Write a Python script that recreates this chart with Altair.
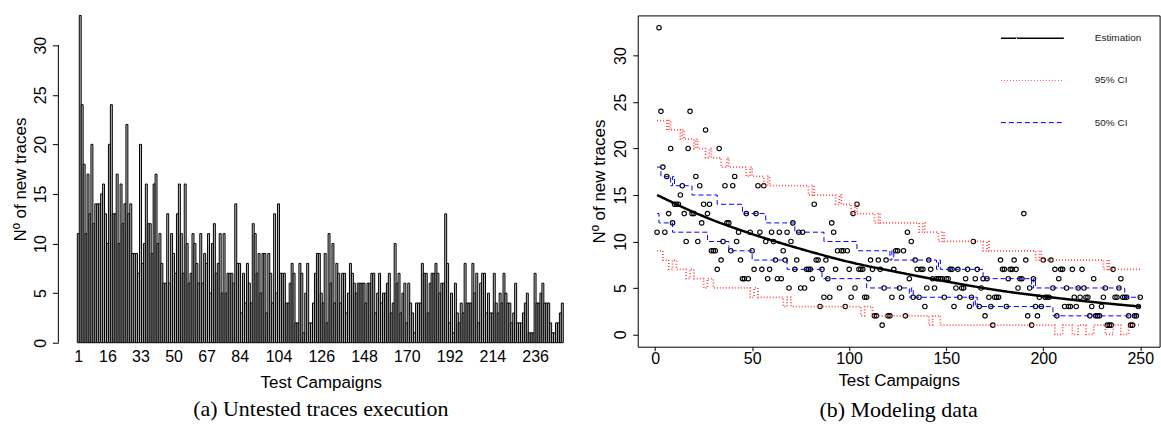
import altair as alt
import pandas as pd

# ---- data ----
traces = [
    11, 33, 24, 18, 11, 17, 13, 20, 12, 14, 14, 14, 15, 16, 13, 10, 20, 24, 13, 13,
    17, 10, 16, 12, 14, 22, 13, 14, 9, 9, 9, 7, 20, 8, 10, 16, 12, 12,
    9, 16, 17, 10, 11, 8, 6, 6, 13, 6, 11, 9, 7, 13, 16, 11, 7, 16, 10, 6, 7, 11,
    10, 8, 6, 11, 6, 9, 8, 11, 5, 10, 12, 7, 8, 11, 5, 11, 5, 7, 7, 7, 6, 14,
    8, 8, 3, 7, 4, 8, 6, 4, 12, 11, 7, 9, 5, 9, 9, 3, 9, 7, 4, 13, 5, 14, 7, 7, 7,
    4, 4, 6, 8, 7, 2, 2, 8, 7, 1, 5, 8, 2, 2, 4, 7,
    9, 9, 5, 4, 9, 2, 11, 6, 10, 4, 8, 7, 4, 7, 7, 3, 5, 8, 7, 6, 5, 6, 6, 6, 6,
    4, 6, 6, 7, 7, 3, 5, 7, 4, 5, 5, 6, 7, 3, 4, 10,
    6, 7, 3, 5, 6, 2, 6, 4, 3, 1, 4, 4, 4, 8, 7, 7, 3, 6, 7, 7, 8, 7, 5, 6, 6, 13,
    8, 2, 5, 1, 6, 3, 2, 4, 3, 8, 4, 4, 4, 8, 5,
    7, 2, 6, 7, 7, 3, 5, 3, 3, 7, 4, 3, 5, 4, 7, 5, 4, 4, 2, 3, 6, 2, 2, 2, 3,
    4, 5, 1, 1, 1, 7, 4, 4, 5, 6, 4, 4, 4, 2, 1, 1, 2, 2, 3, 4,
]
campaigns = list(range(1, len(traces) + 1))

bar_labels = [1, 16, 33, 50, 67, 84, 104, 126, 148, 170, 192, 214, 236]
y_ticks = [0, 5, 10, 15, 20, 25, 30]
x_ticks_right = [0, 50, 100, 150, 200, 250]

# fitted estimation curve (read at regular campaigns)
est_x = [1, 25, 50, 75, 100, 125, 150, 175, 200, 225, 250]
est_y = [15.0, 12.7, 10.8, 9.2, 7.8, 6.7, 5.7, 4.8, 4.1, 3.5, 3.0]

# 95% CI (upper / lower), step starts and levels
ru_x = [1, 6, 7, 8, 13, 14, 15, 20, 21, 22, 26, 28, 29, 34, 37, 38, 47, 49, 50, 56,
        58, 59, 79, 81, 82, 93, 95, 96, 101, 103, 104, 113, 115, 116, 136, 138, 139,
        146, 148, 149, 169, 171, 172, 196, 198, 199, 231, 233, 234, 250]
ru_v = [23, 22, 23, 22, 21, 22, 21, 20, 21, 20, 19, 20, 19, 18, 19, 18, 17, 18, 17, 16,
        17, 16, 15, 16, 15, 14, 15, 14, 13, 14, 13, 12, 13, 12, 11, 12, 11,
        10, 11, 10, 9, 10, 9, 8, 9, 8, 7, 8, 7, 7]
rl_x = [1, 4, 7, 9, 11, 16, 18, 20, 25, 27, 30, 49, 51, 53, 66, 68, 70, 106, 108, 112,
        141, 143, 147, 206, 210, 215, 218, 222, 226, 232, 236, 240, 244, 250]
rl_v = [9, 8, 7, 8, 7, 6, 7, 6, 5, 6, 5, 4, 5, 4, 3, 4, 3, 2, 3, 2,
        1, 2, 1, 0, 1, 0, 1, 0, 1, 0, 1, 0, 1, 1]

# 50% CI (upper / lower)
bu_x = [1, 3, 8, 9, 10, 19, 32, 45, 57, 72, 87, 104, 121, 122, 123, 145, 146, 147,
        169, 194, 195, 196, 242, 250]
bu_v = [18, 17, 16, 17, 16, 15, 14, 13, 12, 11, 10, 9, 8, 9, 8, 7, 8, 7,
        6, 5, 6, 5, 4, 4]
bl_x = [1, 2, 9, 27, 38, 50, 68, 86, 109, 131, 132, 133, 164, 165, 166, 205, 250]
bl_v = [13, 12, 11, 10, 9, 8, 7, 6, 5, 4, 5, 4, 3, 4, 3, 2, 2]

legend_labels = ["Estimation", "95% CI", "50% CI"]

# ---- styling ----
FONT = "Liberation Sans"
SERIF = "Liberation Serif"

df = pd.DataFrame({"campaign": campaigns, "traces": traces})

# ---------------- left panel: bar chart ----------------
left_x = alt.Scale(domain=[-9.25, 260.77], nice=False, zero=False)
left_y = alt.Scale(domain=[0, 33], nice=False, zero=True)

left_x_axis = alt.Axis(values=bar_labels, ticks=False, domain=False, labelPadding=6,
                       title="Test Campaigns", titlePadding=10)
left_y_axis = alt.Axis(values=y_ticks, domain=False, tickSize=6, labelAngle=270,
                       labelAlign="center", labelBaseline="bottom", labelPadding=4,
                       title="Nº of new traces", titlePadding=2.5)

bars = alt.Chart(df).transform_calculate(
    lo="datum.campaign - 0.5", hi="datum.campaign + 0.5"
).mark_bar(fill="#bebebe", stroke="black", strokeWidth=1).encode(
    x=alt.X("lo:Q", scale=left_x, axis=left_x_axis),
    x2="hi:Q",
    y=alt.Y("traces:Q", scale=left_y, axis=left_y_axis),
    y2=alt.datum(0),
)
left_axis_line = alt.Chart(
    pd.DataFrame({"a": [y_ticks[0]], "b": [y_ticks[-1]]})
).mark_rule(color="black", strokeWidth=1).encode(
    x=alt.value(0),
    y=alt.Y("a:Q", scale=left_y, axis=left_y_axis),
    y2="b:Q",
)
left = alt.layer(bars, left_axis_line).properties(
    width=526, height=328,
    title=alt.TitleParams("(a) Untested traces execution", orient="bottom", font=SERIF,
                          fontSize=22, fontWeight="normal", color="black", offset=8),
)

# ---------------- right panel: model ----------------
rx = alt.Scale(domain=[-8.96, 259.96], nice=False, zero=False)
ry = alt.Scale(domain=[-1.32, 34.32], nice=False, zero=False)

color_s = alt.Scale(domain=legend_labels, range=["black", "#ff4d4d", "#0000ff"])
dash_s = alt.Scale(domain=legend_labels, range=[[1, 0], [1, 2], [5, 3]])
width_s = alt.Scale(domain=legend_labels, range=[2.5, 1, 1])

x_axis_r = alt.Axis(values=x_ticks_right, domain=False, tickSize=4, labelPadding=0,
                    title="Test Campaigns", titlePadding=6)
y_axis_r = alt.Axis(values=y_ticks, domain=False, tickSize=5, labelAngle=270,
                    labelAlign="center", labelBaseline="bottom", labelPadding=4,
                    title="Nº of new traces", titlePadding=4)

points = alt.Chart(df).mark_point(shape="circle", size=20, filled=False, color="black",
                                  strokeWidth=1.1, opacity=1).encode(
    x=alt.X("campaign:Q", scale=rx, axis=x_axis_r),
    y=alt.Y("traces:Q", scale=ry, axis=y_axis_r),
)

ci_rows = []
for name, bound, xs, vs in [("95% CI", "upper", ru_x, ru_v), ("95% CI", "lower", rl_x, rl_v),
                            ("50% CI", "upper", bu_x, bu_v), ("50% CI", "lower", bl_x, bl_v)]:
    for xv, vv in zip(xs, vs):
        ci_rows.append({"campaign": xv, "value": vv, "series": name, "bound": bound})
ci_df = pd.DataFrame(ci_rows)
est_df = pd.DataFrame({"campaign": est_x, "value": est_y, "series": legend_labels[0]})

ci_lines = alt.Chart(ci_df).mark_line(interpolate="step-after").encode(
    x=alt.X("campaign:Q", scale=rx, axis=x_axis_r),
    y=alt.Y("value:Q", scale=ry, axis=y_axis_r),
    detail=alt.Detail("bound:N"),
    color=alt.Color("series:N", scale=color_s, legend=None),
    strokeDash=alt.StrokeDash("series:N", scale=dash_s, legend=None),
    strokeWidth=alt.StrokeWidth("series:N", scale=width_s, legend=None),
)
est_line = alt.Chart(est_df).mark_line(interpolate="monotone").encode(
    x=alt.X("campaign:Q", scale=rx, axis=x_axis_r),
    y=alt.Y("value:Q", scale=ry, axis=y_axis_r),
    color=alt.Color("series:N", scale=color_s, legend=None),
    strokeDash=alt.StrokeDash("series:N", scale=dash_s, legend=None),
    strokeWidth=alt.StrokeWidth("series:N", scale=width_s, legend=None),
)

legend_layers = []
for i, name in enumerate(legend_labels):
    ldf = pd.DataFrame({"series": [name]})
    ypix = 23 + 42.2 * i
    legend_layers.append(
        alt.Chart(ldf).mark_rule().encode(
            x=alt.value(364), x2=alt.value(427), y=alt.value(ypix),
            color=alt.Color("series:N", scale=color_s, legend=None),
            strokeDash=alt.StrokeDash("series:N", scale=dash_s, legend=None),
            strokeWidth=alt.value(1.5 if i == 0 else 1),
        )
    )
    legend_layers.append(
        alt.Chart(ldf).mark_text(align="left", baseline="middle", font=FONT, fontSize=10,
                                 color="#222222").encode(
            x=alt.value(458), y=alt.value(ypix), text="series:N",
        )
    )

right = alt.layer(points, ci_lines, est_line, *legend_layers).properties(
    width=523, height=332,
    view=alt.ViewBackground(stroke="black", strokeWidth=1),
    title=alt.TitleParams("(b) Modeling data", orient="bottom", font=SERIF,
                          fontSize=22, fontWeight="normal", color="black", offset=11),
)

chart = alt.hconcat(left, right, spacing=54.6, bounds="flush").properties(
    padding={"left": 11.5, "top": 14, "right": 0, "bottom": 0}
).configure_view(stroke="transparent").configure_axis(
    labelFont=FONT, titleFont=FONT, labelFontSize=16, titleFontSize=17,
    titleFontWeight="normal", labelColor="black", titleColor="black",
    tickColor="black", grid=False,
)

chart.save("out.html", embed_options={"renderer": "svg", "actions": False})
